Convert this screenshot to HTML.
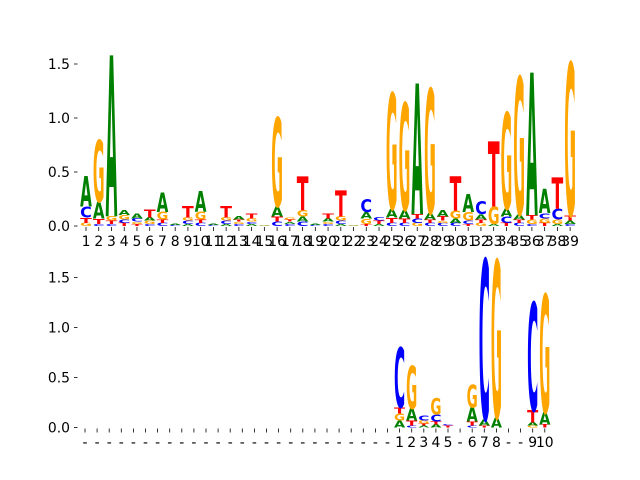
<!DOCTYPE html>
<html><head><meta charset="utf-8"><style>
html,body{margin:0;padding:0;background:#fff;}
svg{display:block;}
text{font-family:"DejaVu Sans","Liberation Sans",sans-serif;}
</style></head><body>
<svg id="chart" width="640" height="480" viewBox="0 0 640 480" xmlns="http://www.w3.org/2000/svg">
<g id="top"></g>
<g id="bot"></g>
</svg>
<script>
// Top panel: columns, each stack bottom->top [letter, height]
const topLabels = ["1","2","3","4","5","6","7","8","9","10","11","12","13","14","15","16","17","18","19","20","21","22","23","24","25","26","27","28","29","30","31","32","33","34","35","36","37","38","39"];
const topStacks = [
 [["G",.03],["T",.05],["C",.10],["A",.28]],
 [["C",.02],["T",.05],["A",.15],["G",.57]],
 [["C",.02],["T",.03],["G",.04],["A",1.49]],
 [["T",.03],["C",.03],["G",.04],["A",.05]],
 [["T",.02],["G",.02],["C",.03],["A",.05]],
 [["C",.02],["G",.03],["A",.03],["T",.07]],
 [["C",.03],["T",.03],["G",.07],["A",.18]],
 [["C",.01],["A",.01]],
 [["A",.02],["C",.03],["G",.03],["T",.11]],
 [["C",.03],["T",.03],["G",.07],["A",.19]],
 [["C",.01],["A",.01]],
 [["A",.02],["C",.03],["G",.03],["T",.11]],
 [["C",.02],["G",.02],["T",.02],["A",.03]],
 [["A",.02],["C",.02],["G",.03],["T",.05]],
 [["G",.005],["A",.005]],
 [["C",.04],["T",.05],["A",.09],["G",.82]],
 [["C",.02],["A",.02],["T",.02],["G",.02]],
 [["C",.04],["A",.05],["G",.06],["T",.31]],
 [["C",.01],["A",.01]],
 [["C",.02],["G",.02],["A",.03],["T",.05]],
 [["A",.02],["C",.03],["G",.04],["T",.24]],
 [["G",.005],["A",.005]],
 [["T",.02],["G",.05],["A",.06],["C",.12]],
 [["A",.02],["T",.03],["C",.03]],
 [["C",.03],["T",.05],["A",.08],["G",1.07]],
 [["C",.03],["T",.04],["A",.08],["G",.99]],
 [["G",.03],["C",.04],["T",.04],["A",1.21]],
 [["C",.03],["T",.03],["A",.06],["G",1.15]],
 [["C",.03],["G",.02],["T",.04],["A",.06]],
 [["C",.03],["A",.04],["G",.07],["T",.32]],
 [["T",.02],["C",.03],["G",.08],["A",.17]],
 [["G",.03],["T",.03],["A",.05],["C",.12]],
 [["A",.02],["G",.16],["T",.60]],
 [["T",.03],["C",.06],["A",.07],["G",.89]],
 [["C",.03],["T",.03],["A",.05],["G",1.27]],
 [["C",.02],["G",.04],["T",.04],["A",1.32]],
 [["T",.03],["G",.04],["C",.05],["A",.22]],
 [["A",.02],["G",.04],["C",.10],["T",.29]],
 [["C",.02],["A",.03],["T",.05],["G",1.41]]
];
const botLabels = ["-","-","-","-","-","-","-","-","-","-","-","-","-","-","-","-","-","-","-","-","-","-","-","-","-","-","1","2","3","4","5","-","6","7","8","-","-","9","10"];
const botStacks = [[],[],[],[],[],[],[],[],[],[],[],[],[],[],[],[],[],[],[],[],[],[],[],[],[],[],
 [["A",.07],["G",.07],["T",.06],["C",.60]],
 [["C",.02],["T",.05],["A",.12],["G",.43]],
 [["A",.02],["T",.02],["G",.03],["C",.05]],
 [["A",.03],["T",.03],["C",.07],["G",.16]],
 [["T",.02],["C",.01]],
 [],
 [["C",.02],["T",.04],["A",.14],["G",.23]],
 [["T",.02],["A",.06],["C",1.60]],
 [["A",.10],["G",1.57]],
 [],[],
 [["G",.02],["A",.03],["T",.12],["C",1.08]],
 [["T",.03],["A",.12],["G",1.18]]
];
const yTicks = [0,0.5,1.0,1.5];
const yTickLabels = ["0.0","0.5","1.0","1.5"];
const colors = {A:"#008000",C:"#0000ff",G:"#ffa500",T:"#ff0000"};
const NS = "http://www.w3.org/2000/svg";
function mk(tag, attrs, parent){const e=document.createElementNS(NS,tag);for(const k in attrs)e.setAttribute(k,attrs[k]);parent.appendChild(e);return e;}

function drawPanel(g, labels, stacks, x0, step, y0, ppu, labelY, prefix){
  const xs = i => x0 + i*step;
  const ys = v => y0 - v*ppu;
  // y axis
  yTicks.forEach((t,i)=>{
    const tk = mk("line",{x1:74,x2:77.5,y1:ys(t),y2:ys(t),stroke:"#000","stroke-width":0.8},g);
    
    
    const tl = mk("text",{x:70,y:ys(t)+5,"text-anchor":"end","font-size":"13.9px",fill:"#000"},g);
    tl.textContent = yTickLabels[i];
    
    
  });
  const w = step*0.92;
  labels.forEach((lab,i)=>{
    const x = xs(i);
    const tk = mk("line",{x1:x,x2:x,y1:y0+1,y2:y0+5,stroke:"#000","stroke-width":0.8},g);
    
    
    const tl = mk("text",{x:x,y:labelY,"text-anchor":"middle","font-size":"13.9px",fill:"#000"},g);
    tl.textContent = lab;
    
    
    let acc = 0;
    (stacks[i]||[]).forEach(([L,h])=>{
      const hp = h*ppu;
      const base = ys(acc);
      acc += h;
      if (hp < 0.3) return;
      const t = mk("text",{x:0,y:0,"font-size":"100px","font-weight":"bold",fill:colors[L],
        textLength:100, lengthAdjust:"spacingAndGlyphs",
        transform:`translate(${x-w/2},${base}) scale(${w/100},${hp/72.9})`},g);
      t.textContent = L;
      
      
    });
  });
}
drawPanel(document.getElementById("top"), topLabels, topStacks, 86, 12.74, 226, 108, 246, "top");
drawPanel(document.getElementById("bot"), botLabels, botStacks, 85, 12.1, 427.5, 100, 447, "bottom");
</script>
</body></html>
